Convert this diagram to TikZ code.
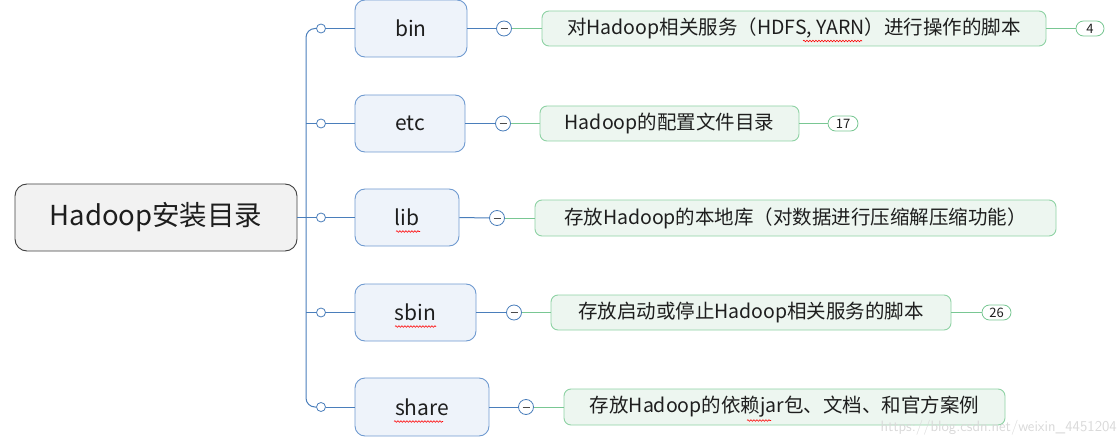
\documentclass[tikz,border=0pt]{standalone}
\usepackage{fontspec}
\setmainfont{Noto Sans CJK SC}
\usetikzlibrary{decorations.pathmorphing}
\definecolor{blueline}{HTML}{4A7EBB}
\definecolor{bluefill}{HTML}{EEF3FA}
\definecolor{blueborder}{HTML}{6F9AD0}
\definecolor{greenfill}{HTML}{EDF6F0}
\definecolor{greenborder}{HTML}{8ED2A4}
\definecolor{greenline}{HTML}{79C793}
\definecolor{rootfill}{HTML}{F2F2F2}
\definecolor{rootborder}{HTML}{404040}
\definecolor{txt}{HTML}{1E1E1E}
\tikzset{
  rootbox/.style={draw=rootborder, fill=rootfill, rounded corners=12pt, line width=0.9pt, inner sep=0pt, text=txt, font=\fontsize{27.5}{30}\selectfont},
  childbox/.style={draw=blueborder, fill=bluefill, rounded corners=10pt, line width=0.9pt, inner sep=0pt, minimum height=57pt, text=txt, font=\fontsize{21}{24}\selectfont},
  leafbox/.style={draw=greenborder, fill=greenfill, rounded corners=7pt, line width=0.9pt, inner sep=0pt, text=txt, font=\fontsize{19.5}{22}\selectfont},
  badge/.style={draw=greenline, fill=white, rounded corners=7.5pt, line width=0.8pt, inner sep=0pt, minimum height=15pt, text=txt, font=\fontsize{13}{14}\selectfont},
  knob/.style={circle, draw=blueline, fill=white, line width=0.8pt, inner sep=0pt, minimum size=9pt},
  minusknob/.style={circle, draw=blueline, fill=white, line width=0.8pt, inner sep=0pt, minimum size=15pt},
  trunk/.style={draw=blueline, line width=1pt},
  gline/.style={draw=greenline, line width=0.9pt},
  squiggle/.style={draw=red, line width=0.6pt, decorate, decoration={snake, amplitude=0.8pt, segment length=3pt}}
}
\begin{document}
\begin{tikzpicture}[x=1pt, y=-1pt]
\useasboundingbox (0,0) rectangle (1117,441);
% root
\node[rootbox, minimum width=282pt, minimum height=67pt] (root) at (156,217.5) {Hadoop安装目录};
% children
\node[childbox, minimum width=112pt] (bin) at (411,28.5) {bin};
\node[childbox, minimum width=110pt] (etc) at (410,123.5) {etc};
\node[childbox, minimum width=104pt] (lib) at (407,217.5) {lib};
\node[childbox, minimum width=121pt] (sbin) at (415.5,312.5) {sbin};
\node[childbox, minimum width=134pt, minimum height=58pt] (share) at (422,407) {share};
% knobs
\node[knob] (k1) at (321,28.5) {};
\node[knob] (k2) at (321,123.5) {};
\node[knob] (k3) at (321,217.5) {};
\node[knob] (k4) at (321,312.5) {};
\node[knob] (k5) at (321,407) {};
\coordinate (t1) at (306,28.5);
\coordinate (t2) at (306,123.5);
\coordinate (t3) at (306,217.5);
\coordinate (t4) at (306,312.5);
\coordinate (t5) at (306,407);
% trunk
\draw[trunk] (root.east) -- (t3);
\draw[trunk, rounded corners=9pt] (k1.west) -- (t1) -- (t5) -- (k5.west);
\draw[trunk] (t2) -- (k2.west);
\draw[trunk] (t3) -- (k3.west);
\draw[trunk] (t4) -- (k4.west);
\foreach \a/\b in {k1/bin,k2/etc,k3/lib,k4/sbin,k5/share}{\draw[trunk] (\a.east) -- (\b.west);}
% minus knobs
\node[minusknob] (m1) at (504,28.5) {};
\node[minusknob] (m2) at (503,123.5) {};
\node[minusknob] (m3) at (497,218) {};
\node[minusknob] (m4) at (514,312.5) {};
\node[minusknob] (m5) at (526,407) {};
\foreach \m in {m1,m2,m3,m4,m5}{\draw[line width=1pt, draw=txt!80] ([xshift=-3.5pt]\m.center) -- ([xshift=3.5pt]\m.center);}
\foreach \a/\b in {bin/m1,etc/m2,lib/m3,sbin/m4,share/m5}{\draw[trunk] (\a.east) -- (\b.west);}
% leaves
\node[leafbox, minimum width=504pt, minimum height=35pt] (g1) at (794,28.5) {对Hadoop相关服务（HDFS, YARN）进行操作的脚本};
\node[leafbox, minimum width=259pt, minimum height=35pt] (g2) at (669.5,123.5) {Hadoop的配置文件目录};
\node[leafbox, minimum width=521pt, minimum height=36pt] (g3) at (795.5,218) {存放Hadoop的本地库（对数据进行压缩解压缩功能）};
\node[leafbox, minimum width=400pt, minimum height=35pt] (g4) at (751,312.5) {存放启动或停止Hadoop相关服务的脚本};
\node[leafbox, minimum width=441pt, minimum height=36pt] (g5) at (784.5,407) {存放Hadoop的依赖jar包、文档、和官方案例};
\foreach \a/\b in {m1/g1,m2/g2,m3/g3,m4/g4,m5/g5}{\draw[gline] (\a.east) -- (\b.west);}
% badges
\node[badge, minimum width=28pt] (b1) at (1090,28.5) {4};
\node[badge, minimum width=30pt] (b2) at (843,123.5) {17};
\node[badge, minimum width=29pt] (b4) at (996.5,312.5) {26};
\draw[gline] (g1.east) -- (b1.west);
\draw[gline] (g2.east) -- (b2.west);
\draw[gline] (g4.east) -- (b4.west);
% spell-check marks
\draw[squiggle] (803,41) -- (862,41);
\draw[squiggle] (396,231.5) -- (420,231.5);
\draw[squiggle] (395,326.5) -- (436,326.5);
\draw[squiggle] (394,421.5) -- (443,421.5);
\draw[squiggle] (747,420.5) -- (771,420.5);
% watermark
\node[anchor=east, text=gray!30, font=\fontsize{15}{16}\selectfont\sffamily, inner sep=0pt] (wm) at (1117,428) {https://blog.csdn.net/weixin\_4451204};
\end{tikzpicture}
\end{document}
